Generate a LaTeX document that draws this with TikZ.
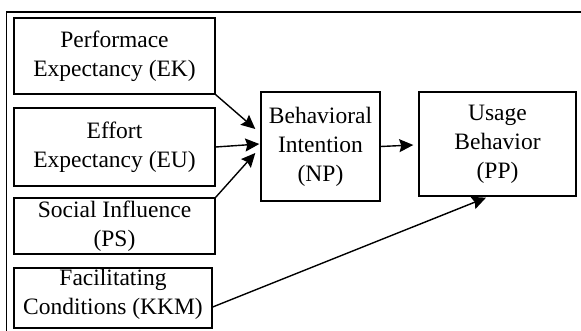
\documentclass[tikz,border=0pt]{standalone}
\usepackage{fontspec}
\setmainfont{Liberation Serif}
\usetikzlibrary{arrows.meta}

\begin{document}
\begin{tikzpicture}[x=1pt,y=-1pt,->,>={Stealth[length=14pt,width=13pt,inset=2pt]},
                    line width=1.4pt]
  \tikzstyle{every node}=[font=\fontsize{23.5}{29}\selectfont]
  \tikzstyle{factor}=[draw,rectangle,align=center,inner sep=0pt]

  \useasboundingbox (0,0) rectangle (581,331);
  \draw[-,line width=1.6pt] (6.5,340) -- (6.5,12) -- (590,12);

  \node[factor,minimum width=201pt,minimum height=76pt] (EK) at (114.5,56) {Performace\\Expectancy (EK)};
  \node[factor,minimum width=201pt,minimum height=78pt] (EU) at (114.5,147) {Effort\\Expectancy (EU)};
  \node[factor,minimum width=201pt,minimum height=56pt] (PS) at (114.5,226) {Social Influence\\(PS)};
  \node[factor,minimum width=198pt,minimum height=60pt,text depth=12pt] (KKM) at (113,298) {Facilitating\\Conditions (KKM)};
  \node[factor,minimum width=119pt,minimum height=109pt] (NP) at (320.5,146.5) {Behavioral\\Intention\\(NP)};
  \node[factor,minimum width=157pt,minimum height=104pt] (PP) at (497.5,144) {Usage\\Behavior\\(PP)};

  \draw (EK.south east) -- ([xshift=-5pt,yshift=17.5pt]NP.west);
  \draw (EU.east) -- ([xshift=-1pt,yshift=2.5pt]NP.west);
  \draw (PS.north east) -- ([xshift=-5pt,yshift=-6.5pt]NP.west);
  \draw (NP.east) -- ([xshift=-5pt,yshift=-1pt]PP.west);
  \draw ([yshift=-9pt]KKM.east) -- ([xshift=-11.5pt,yshift=-1pt]PP.south);
\end{tikzpicture}
\end{document}
